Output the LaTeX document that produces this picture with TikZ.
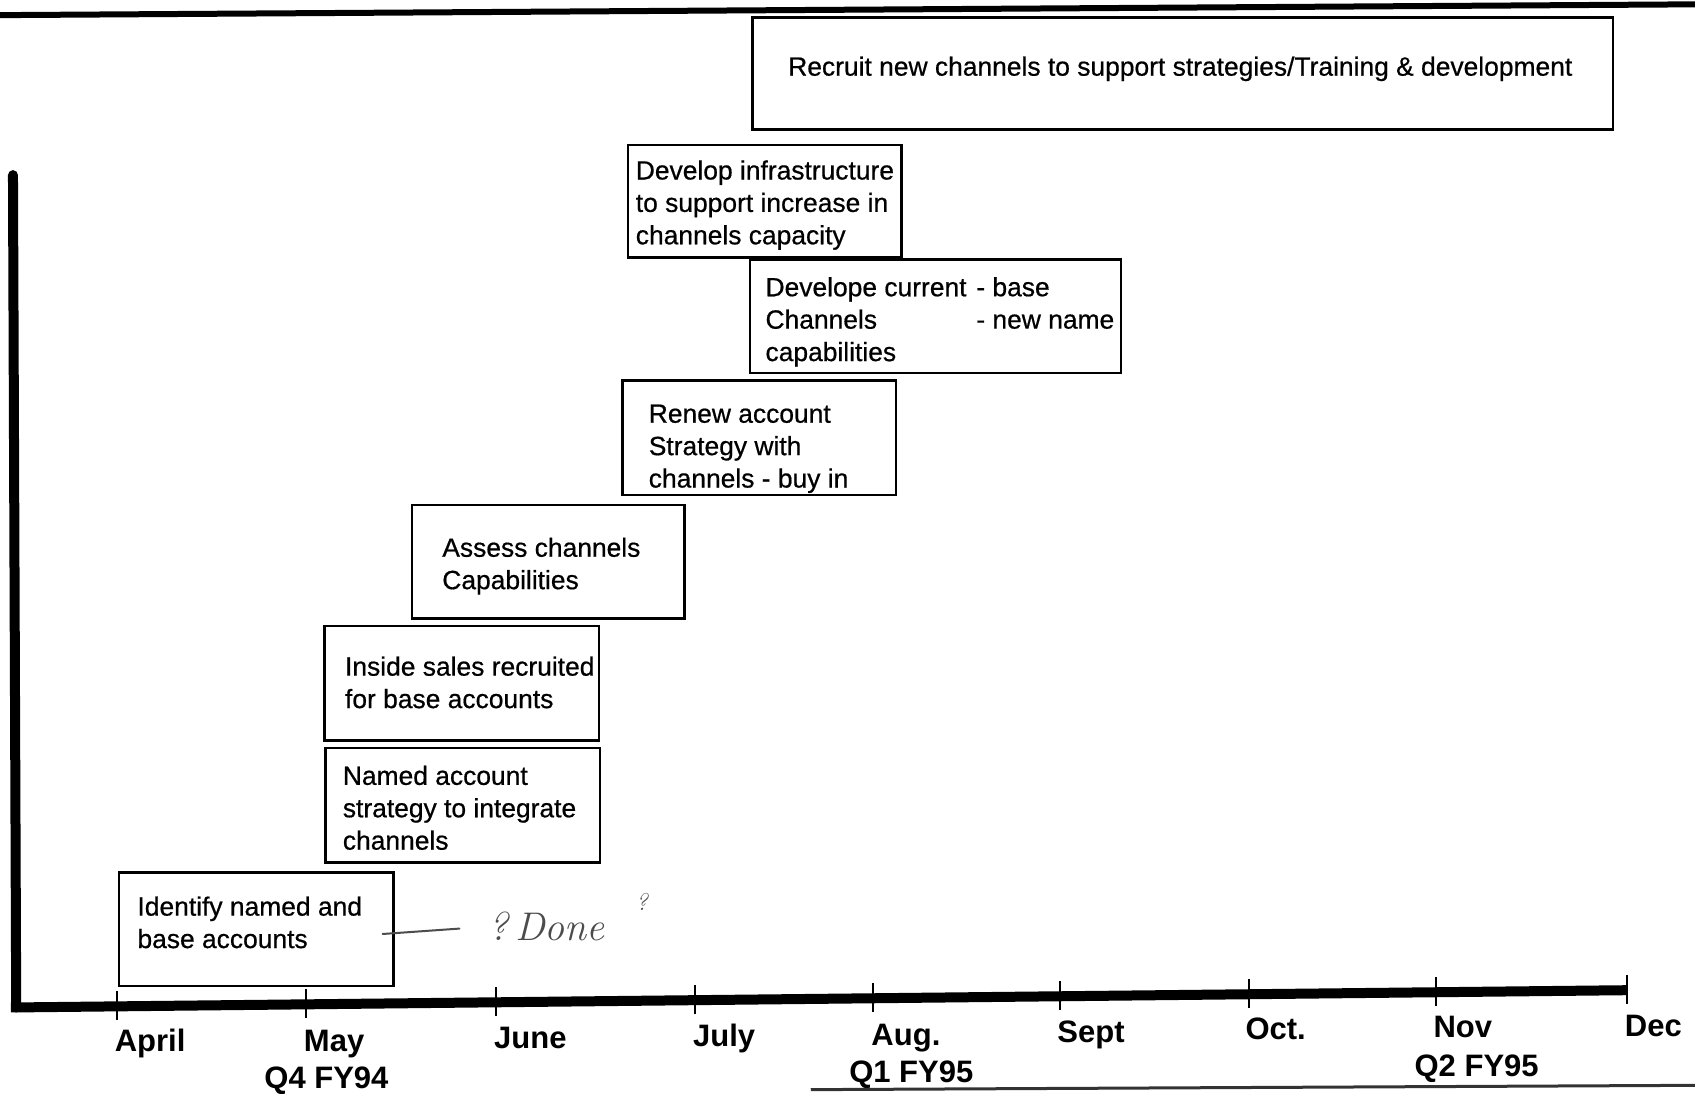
\documentclass[tikz,border=0pt]{standalone}
\usepackage{fontspec}
\setmainfont{Liberation Sans}
\newfontfamily\taskfont[FakeBold=0.6]{Liberation Sans}
\newfontfamily\handfont{Latin Modern Roman}
\usetikzlibrary{calc}
\begin{document}
\begin{tikzpicture}[x=1.081pt,y=-1.081pt,
  taskbox/.style={draw=black, line width=2.5pt},
  % multi-line nodes are anchored at the baseline of their last line
  tasktext/.style={anchor=base west, inner sep=0pt, align=left,
    font=\taskfont\fontsize{26.4}{32.4}\selectfont},
  month/.style={anchor=base west, inner sep=0pt,
    font=\bfseries\fontsize{31}{34}\selectfont},
  quarter/.style={anchor=base, inner sep=0pt,
    font=\bfseries\fontsize{31}{34}\selectfont},
  axisline/.style={line width=10pt, draw=black},
  tickmark/.style={line width=2pt, draw=black},
  scrawl/.style={draw=black!70, line width=2pt, line cap=round}
]
\useasboundingbox[fill=white] (0,0) rectangle (1568,1012);

% page rules
\draw[line width=6pt] (0,14) -- (1568,4);
\draw[line width=3pt, black!80] (750,1008) -- (1568,1004);

% task boxes
\draw[taskbox] (696,16) rectangle (1492,120);
\draw[taskbox] (581,134) rectangle (834,238);
\draw[taskbox] (694,240) rectangle (1037,345);
\draw[taskbox] (576,352) rectangle (829,458);
\draw[taskbox] (381,467) rectangle (633,572);
\draw[taskbox] (300,579) rectangle (554,685);
\draw[taskbox] (301,692) rectangle (555,798);
\draw[taskbox] (110,807) rectangle (364,912);

% task texts
\node[tasktext] (recruit) at (729,70) {Recruit new channels to support strategies/Training \& development};
\node[tasktext] (infra) at (588,226) {Develop infrastructure\\to support increase in\\channels capacity};
\node[tasktext] (devcur) at (708,334) {Develope current\\Channels\\capabilities};
\node[tasktext] (devlist) at (903,304) {- base\\- new name};
\node[tasktext] (renew) at (600,451) {Renew account\\Strategy with\\channels - buy in};
\node[tasktext] (assess) at (409,545) {Assess channels\\Capabilities};
\node[tasktext] (inside) at (319,655) {Inside sales recruited\\for base accounts};
\node[tasktext] (named) at (317,786) {Named account\\strategy to integrate\\channels};
\node[tasktext] (identify) at (127,877) {Identify named and\\base accounts};

% handwritten note
\coordinate (noteA) at (354,864);
\coordinate (noteB) at (425,859);
\draw[scrawl] (noteA) -- (noteB);
\node[anchor=base west, inner sep=0pt, text=black!70,
  font=\handfont\itshape\fontsize{40}{42}\selectfont] (note) at (452,870) {?\,Done};
\node[anchor=base west, inner sep=0pt, text=black!70,
  font=\handfont\itshape\fontsize{24}{26}\selectfont] (noteq) at (588,842) {?};

% time axis
\coordinate (axT) at (12,162);
\coordinate (axO) at (15,932);
\coordinate (axE) at (1505,916);
\draw[axisline, line cap=round] (axT) -- (axO);
\draw[axisline] ($(axO)+(-5,0)$) -- (axE);
\foreach \t in {0.0624,0.1799,0.2980,0.4215,0.5322,0.6483,0.7651,0.8812,1.0}
  \draw[tickmark] ($(axO)!\t!(axE)+(0,-14)$) -- ($(axO)!\t!(axE)+(0,13)$);

% month labels
\node[month] (apr) at (106,973) {April};
\node[month] (may) at (281,973) {May};
\node[month] (jun) at (457,970) {June};
\node[month] (jul) at (641,968) {July};
\node[month] (aug) at (806,967) {Aug.};
\node[month] (sep) at (978,964) {Sept};
\node[month] (oct) at (1152,962) {Oct.};
\node[month] (nov) at (1326,960) {Nov};
\node[month] (dec) at (1503,959) {Dec};
\node[quarter] (q4) at (302,1007) {Q4 FY94};
\node[quarter] (q1) at (843,1001) {Q1 FY95};
\node[quarter] (q2) at (1366,996) {Q2 FY95};
\end{tikzpicture}
\end{document}
